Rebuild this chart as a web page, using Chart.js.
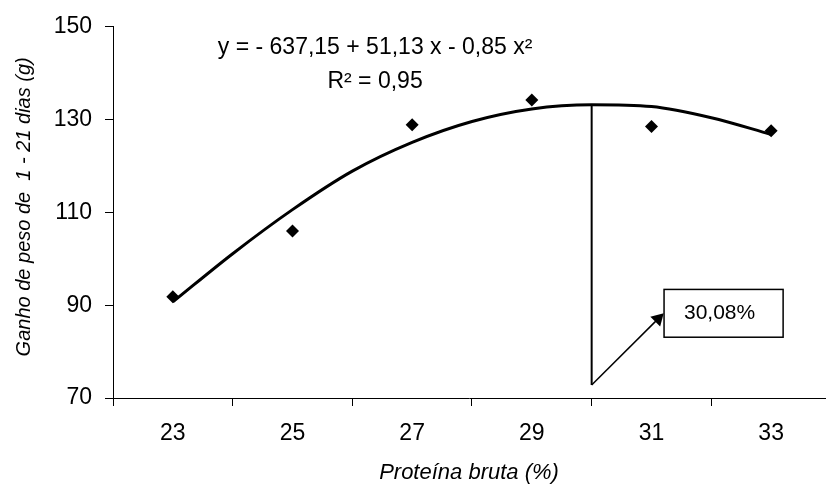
<!DOCTYPE html>
<html>
<head>
<meta charset="utf-8">
<script src="https://cdn.jsdelivr.net/npm/chart.js@4"></script>
<style>
    html, body { margin: 0; padding: 0; background: #fff; overflow: hidden; }
    canvas { display: block; }
</style>
</head>
<body>
<canvas id="chartGanhoPeso" width="833" height="486"></canvas>
<script>
// valores
const proteina = [23, 25, 27, 29, 31, 33];
const ganhoPeso = [91.8, 106.0, 128.9, 134.2, 128.5, 127.6];

const curvaX = [23, 24, 25, 26, 27, 28, 29, 30, 31, 32, 33];
const curvaY = [90.7, 101.1, 110.6, 118.9, 125.1, 129.6, 132.3, 133.2, 132.8, 130.4, 126.8];

const xTicks = [22, 23, 24, 25, 26, 27, 28, 29, 30, 31, 32, 33];
const yTicks = [70, 90, 110, 130, 150];

// marcação do ponto ótimo
const otimoX = [30, 30];
const otimoY = [133.2, 72.8];
const setaX = [30, 31.11];
const setaY = [72.8, 87.05];
const caixaX = [31.21, 33.2];
const caixaY = [83.1, 93.4];

const equacao = 'y = - 637,15 + 51,13 x - 0,85 x²';
const r2 = 'R² = 0,95';
const rotuloOtimo = '30,08%';
const textoX = 26.38;
const textoY = [144.2, 136.9];

const fonte = 'Arial, "Liberation Sans", sans-serif';

function pares(xs, ys) {
    return xs.map(function (x, i) { return { x: x, y: ys[i] }; });
}

const anotacoes = {
    id: 'anotacoes',
    afterDatasetsDraw: function (chart) {
        const ctx = chart.ctx;
        const sx = chart.scales.x;
        const sy = chart.scales.y;
        ctx.save();
        ctx.fillStyle = '#000';
        ctx.strokeStyle = '#000';

        // equação e R²
        ctx.font = '23px ' + fonte;
        ctx.textAlign = 'center';
        ctx.textBaseline = 'alphabetic';
        ctx.fillText(equacao, sx.getPixelForValue(textoX), sy.getPixelForValue(textoY[0]));
        ctx.fillText(r2, sx.getPixelForValue(textoX), sy.getPixelForValue(textoY[1]));

        // caixa 30,08%
        const x0 = sx.getPixelForValue(caixaX[0]);
        const x1 = sx.getPixelForValue(caixaX[1]);
        const y0 = sy.getPixelForValue(caixaY[1]);
        const y1 = sy.getPixelForValue(caixaY[0]);
        ctx.lineWidth = 1.5;
        ctx.strokeRect(x0, y0, x1 - x0, y1 - y0);
        ctx.font = '21px ' + fonte;
        ctx.textBaseline = 'middle';
        ctx.fillText(rotuloOtimo, (x0 + x1) / 2 - 4, (y0 + y1) / 2);
        ctx.restore();
    }
};

new Chart(document.getElementById('chartGanhoPeso'), {
    type: 'scatter',
    data: {
        datasets: [{
            label: 'Ganho de peso',
            data: pares(proteina, ganhoPeso),
            pointStyle: 'rectRot',
            pointRadius: 6.5,
            backgroundColor: '#000',
            borderColor: '#000',
            borderWidth: 0,
            order: 0
        }, {
            label: 'Tendência',
            data: pares(curvaX, curvaY),
            showLine: true,
            borderColor: '#000',
            borderWidth: 3,
            pointRadius: 0,
            cubicInterpolationMode: 'monotone',
            order: 1
        }, {
            label: 'Ótimo',
            data: pares(otimoX, otimoY),
            showLine: true,
            borderColor: '#000',
            borderWidth: 2,
            pointRadius: 0,
            order: 2
        }, {
            label: 'Seta',
            data: pares(setaX, setaY),
            showLine: true,
            borderColor: '#000',
            backgroundColor: '#000',
            borderWidth: 1.5,
            pointStyle: 'triangle',
            pointRadius: [0, 8],
            pointBorderWidth: 0,
            rotation: 45,
            order: 3
        }]
    },
    options: {
        responsive: false,
        animation: false,
        devicePixelRatio: 1,
        layout: { padding: { top: 25, right: 0, bottom: 0, left: 0 } },
        plugins: {
            legend: { display: false },
            tooltip: { enabled: false }
        },
        scales: {
            x: {
                type: 'linear',
                min: 22,
                max: 33.9,
                afterBuildTicks: function (s) {
                    s.ticks = xTicks.map(function (v) { return { value: v }; });
                },
                afterFit: function (s) {
                    s.height = 88;
                    s.paddingLeft = 0;
                    s.paddingRight = 0;
                },
                ticks: {
                    autoSkip: false,
                    maxRotation: 0,
                    padding: 14,
                    color: '#000',
                    font: { family: fonte, size: 23 },
                    callback: function (value) {
                        return value % 2 === 1 ? String(value) : '';
                    }
                },
                grid: {
                    drawOnChartArea: false,
                    drawTicks: true,
                    tickLength: 8,
                    lineWidth: 1,
                    color: function (c) {
                        return c.tick && c.tick.value % 2 === 0 ? '#000' : 'rgba(0,0,0,0)';
                    }
                },
                border: { color: '#000', width: 1 },
                title: {
                    display: true,
                    text: 'Proteína bruta (%)',
                    color: '#000',
                    font: { family: fonte, size: 22, style: 'italic' },
                    padding: { top: 5, bottom: 0 }
                }
            },
            y: {
                type: 'linear',
                min: 70,
                max: 150,
                afterBuildTicks: function (s) {
                    s.ticks = yTicks.map(function (v) { return { value: v }; });
                },
                afterFit: function (s) { s.width = 113; },
                ticks: {
                    padding: 13,
                    color: '#000',
                    font: { family: fonte, size: 23 }
                },
                grid: {
                    drawOnChartArea: false,
                    drawTicks: true,
                    tickLength: 8,
                    lineWidth: 1,
                    color: '#000'
                },
                border: { color: '#000', width: 1 },
                title: {
                    display: true,
                    text: '  Ganho de peso de  1 - 21 dias (g)',
                    color: '#000',
                    font: { family: fonte, size: 20, style: 'italic' },
                    padding: { top: 12, bottom: 0 }
                }
            }
        }
    },
    plugins: [anotacoes]
});
</script>
</body>
</html>
